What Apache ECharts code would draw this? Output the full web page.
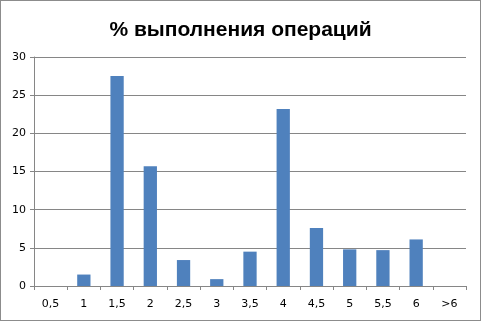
<!DOCTYPE html>
<html lang="ru">
<head>
    <meta charset="UTF-8">
    <title>% выполнения операций</title>
    <script src="https://cdn.jsdelivr.net/npm/echarts@6/dist/echarts.min.js"></script>
    <style>
        html, body { margin: 0; padding: 0; background: #fff; }
        #chart { width: 481px; height: 321px; box-sizing: border-box; border: 1px solid #8c8c8c; }
    </style>
</head>
<body>
<div id="chart"></div>
<script type="text/javascript">
    // категории и значения
    var categories = ['0,5', '1', '1,5', '2', '2,5', '3', '3,5', '4', '4,5', '5', '5,5', '6', '>6'];
    var values = [0, 1.5, 27.5, 15.7, 3.4, 0.9, 4.5, 23.2, 7.6, 4.8, 4.7, 6.1, 0];

    var myChart = echarts.init(document.getElementById('chart'));
    myChart.setOption({
        animation: false,
        color: ['#4f81bd'],
        title: {
            text: '% выполнения операций',
            left: 'center',
            top: 14,
            textStyle: { fontFamily: 'Liberation Sans', fontSize: 21, fontWeight: 'bold', color: '#000' }
        },
        grid: { left: 33, right: 14, top: 56, bottom: 34 },
        xAxis: {
            type: 'category',
            data: categories,
            axisLine: { lineStyle: { color: '#868686' } },
            axisTick: { show: true, length: 4, lineStyle: { color: '#868686' } },
            axisLabel: { fontFamily: 'DejaVu Sans', fontSize: 11, color: '#000', margin: 13, interval: 0 }
        },
        yAxis: {
            type: 'value',
            min: 0,
            max: 30,
            interval: 5,
            axisLine: { show: true, lineStyle: { color: '#868686' } },
            axisTick: { show: true, length: 4, lineStyle: { color: '#868686' } },
            splitLine: { lineStyle: { color: '#868686' } },
            axisLabel: { fontFamily: 'DejaVu Sans', fontSize: 11, color: '#000', margin: 8 }
        },
        series: [{
            type: 'bar',
            data: values,
            barCategoryGap: '60%'
        }]
    });
</script>
</body>
</html>
